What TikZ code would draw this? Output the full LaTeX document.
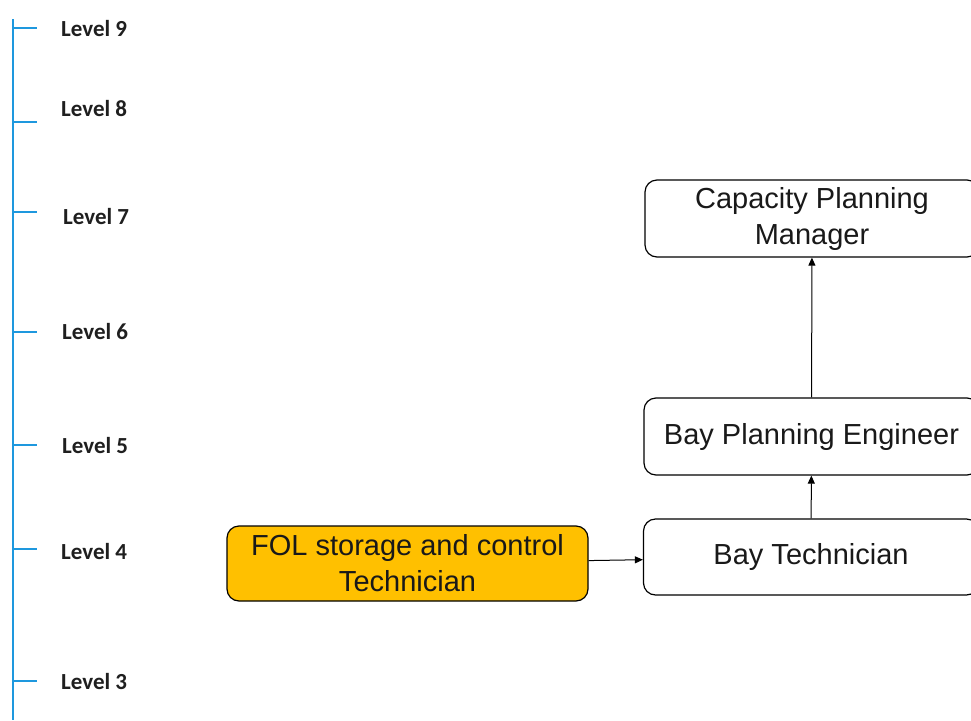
\documentclass[tikz,border=0pt]{standalone}
\usepackage{fontspec}
\setmainfont{Liberation Sans}
\newfontfamily\levelfont{Carlito}
\usetikzlibrary{arrows.meta}
\definecolor{eixo}{RGB}{30,152,222}
\definecolor{laranja}{RGB}{255,192,0}
\begin{document}
\begin{tikzpicture}[
                x=1pt, y=-1pt,
                cargo/.style={shape=rectangle, draw=black, line width=1.2pt, rounded corners=12pt,
                    align=center, inner sep=0pt, minimum height=76pt, minimum width=335pt,
                    font=\fontsize{29}{36}\selectfont, text=black!90},
                nivel/.style={anchor=west, inner sep=0pt, font=\levelfont\bfseries\fontsize{23}{26}\selectfont, text=black!88},
                marca/.style={draw=eixo, line width=1.5pt},
                seta/.style={line width=1pt, -{Triangle[length=8pt, width=7pt]}},
            ]
            \useasboundingbox (0, 0) rectangle (971, 720);

            % escala de niveis
            \coordinate (topo) at (13, 19);
            \coordinate (base) at (13, 720);
            \draw[marca] (topo) -- (base);

            \node[nivel] (n9) at (61, 29) {Level 9};
            \node[nivel] (n8) at (61, 109) {Level 8};
            \node[nivel] (n7) at (63, 217) {Level 7};
            \node[nivel] (n6) at (62, 332) {Level 6};
            \node[nivel] (n5) at (62, 446) {Level 5};
            \node[nivel] (n4) at (61, 552) {Level 4};
            \node[nivel] (n3) at (61, 682) {Level 3};

            \draw[marca] (13, 28) -- (37, 28);
            \draw[marca] (13, 122) -- (37, 122);
            \draw[marca] (13, 212) -- (37, 212);
            \draw[marca] (13, 332) -- (37, 332);
            \draw[marca] (13, 445) -- (37, 445);
            \draw[marca] (13, 549) -- (37, 549);
            \draw[marca] (13, 681) -- (37, 681);

            % cargos
            \node[cargo, minimum height=77pt, minimum width=334pt] (cpm) at (812, 218.5) {Capacity Planning\\Manager};
            \node[cargo, minimum height=77pt] (bpe) at (811.5, 436.5) {Bay Planning Engineer};
            \node[cargo] (bt) at (811, 557) {Bay Technician};
            \node[cargo, fill=laranja, minimum width=361pt, minimum height=75pt] (fol) at (407.5, 563.5) {FOL storage and control\\Technician};

            \draw[seta] (bt) -- (bpe);
            \draw[seta] (bpe) -- (cpm);
            \draw[seta] (fol) -- (bt);
        \end{tikzpicture}
\end{document}
